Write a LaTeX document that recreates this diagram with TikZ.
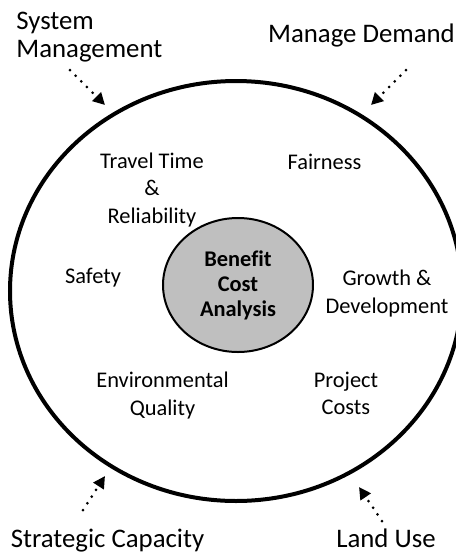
\documentclass[tikz,border=0pt]{standalone}
\usepackage{fontspec}
\setmainfont{Carlito}[Ligatures=CommonOff]
\usetikzlibrary{arrows.meta,shapes.geometric}

\tikzset{
  topic/.style={align=center, inner sep=0pt, font=\fontsize{11.2}{13.7}\selectfont},
  outside/.style={inner sep=0pt, font=\fontsize{13.4}{13.6}\selectfont},
  push/.style={line width=1.5pt, dash pattern=on 0pt off 4pt, line cap=round,
    -{Triangle[length=6pt,width=6pt]}}
}

\begin{document}
\begin{tikzpicture}[x=0.5pt,y=-0.5pt]
\useasboundingbox (0,0) rectangle (456,554);

% outer field and the core
\node (field) at (236,291)[draw,ellipse,line width=2pt,minimum width=226pt, minimum height=210pt]{};
\node (bca) at (238,285)[draw,ellipse,line width=1pt,fill=black!25,minimum width=75pt, minimum height=67pt,
  align=center,font=\fontsize{11.2}{12.5}\selectfont\bfseries]{Benefit\\Cost\\Analysis};

% goals inside the field
\node (travel) at (152,190)[topic]{Travel Time\\\&\\Reliability};
\node (fair) at (324.5,169)[topic,anchor=base]{Fairness};
\node (safety) at (93,283)[topic,anchor=base]{Safety};
\node (growth) at (387,293.5)[topic]{Growth \&\\Development};
\node (env) at (162.5,395.5)[topic]{Environmental\\Quality};
\node (cost) at (346,393.5)[topic]{Project\\Costs};

% outside strategies
\node (sysman) at (16,12)[outside,align=left,anchor=north west]{System\\Management};
\node (demand) at (361.5,42)[outside,anchor=base]{Manage Demand};
\node (capacity) at (107.5,547)[outside,anchor=base]{Strategic Capacity};
\node (landuse) at (386,547)[outside,anchor=base]{Land Use};

\coordinate (sysfrom) at (70,70);
\coordinate (systo) at (105,105);
\coordinate (demfrom) at (406,70);
\coordinate (demto) at (371,105);
\coordinate (capfrom) at (83,510);
\coordinate (capto) at (105,476);
\coordinate (landfrom) at (382,521);
\coordinate (landto) at (359,487);

\draw[push] (sysfrom) -- (systo);
\draw[push] (demfrom) -- (demto);
\draw[push] (capfrom) -- (capto);
\draw[push] (landfrom) -- (landto);
\end{tikzpicture}
\end{document}
